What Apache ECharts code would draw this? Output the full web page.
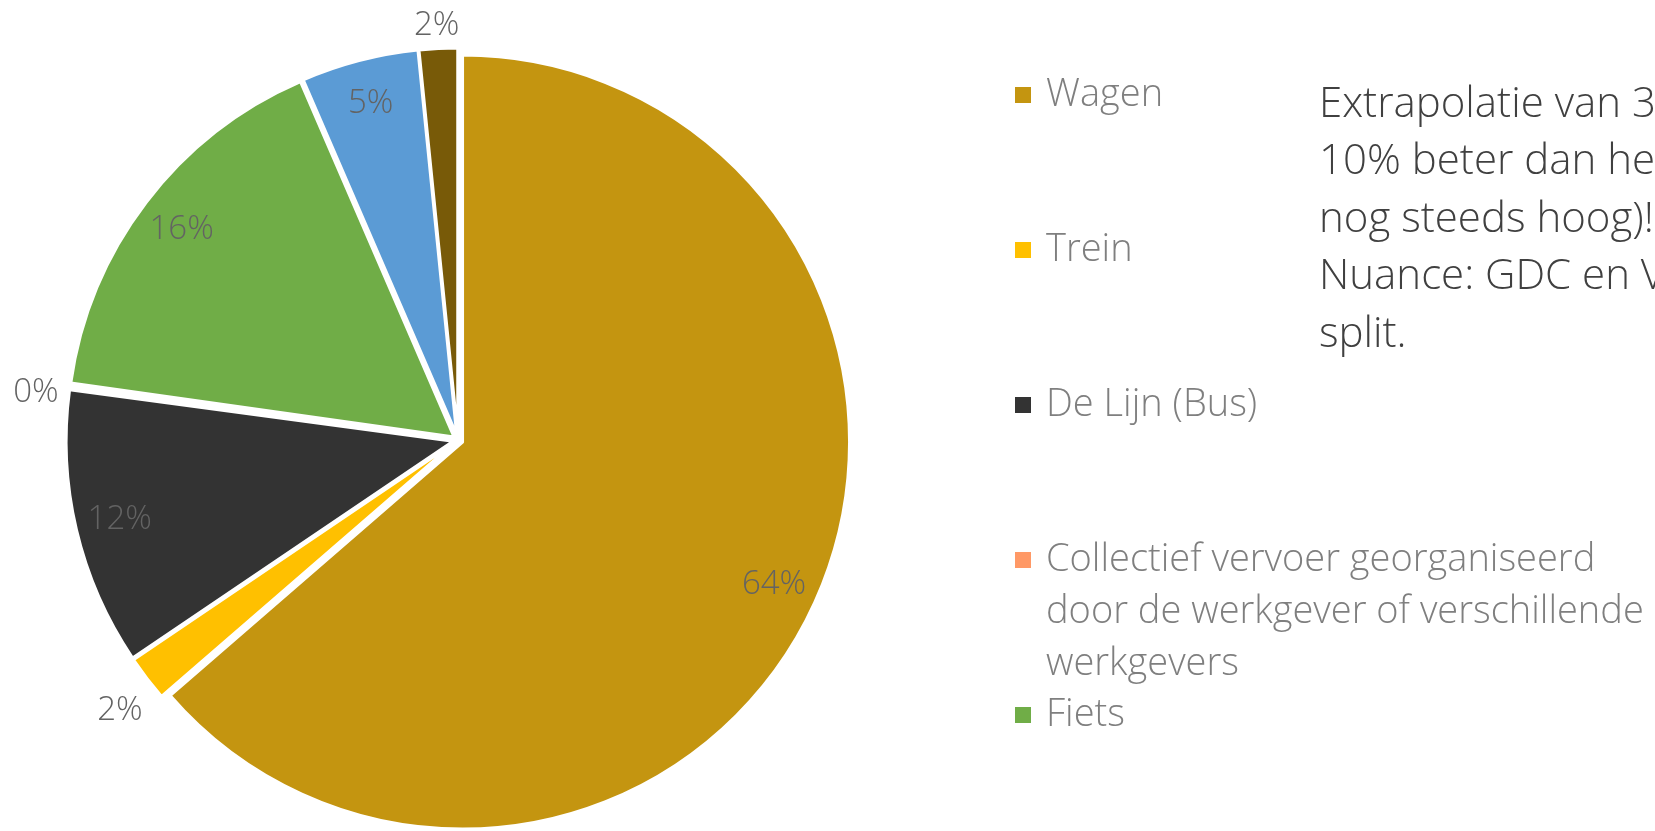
<!DOCTYPE html>
<html>
<head>
<meta charset="utf-8">
<script src="https://cdn.jsdelivr.net/npm/echarts@6/dist/echarts.min.js"></script>
<style>
  html, body { margin: 0; padding: 0; background: #fff; }
  #chart { width: 1655px; height: 831px; }
</style>
</head>
<body>
<div id="chart"></div>
<script>
// vervoersmiddelen (woon-werk), aandeel in %
const categories = ['Wagen', 'Trein', 'De Lijn (Bus)',
  'Collectief vervoer georganiseerd door de werkgever of verschillende werkgevers',
  'Fiets', 'Te voet', 'Andere']
const shares = [63.7, 1.9, 11.6, 0.1, 16.3, 4.9, 1.6]
const sliceColors = ['#C49510', '#FFC000', '#333333', '#FF9966', '#70AD47', '#5B9BD5', '#785A08']
const legendNames = categories.slice(0, 5)
const noteLines = ['Extrapolatie van 3', '10% beter dan he', 'nog steeds hoog)!', 'Nuance: GDC en V', 'split.']

const R = 387
const center = [458, 440]
const font = '"Open Sans", Lato, sans-serif'
const lineH = 52

function wrap(text, maxChars) {
  const lines = []
  let cur = ''
  text.split(' ').forEach(w => {
    if (cur && (cur + ' ' + w).length > maxChars) {
      lines.push(cur)
      cur = w
    } else {
      cur = cur ? cur + ' ' + w : w
    }
  })
  if (cur) lines.push(cur)
  return lines
}

const pct = p => Math.round(p.value) + '%'

const baseData = categories.map((name, i) => ({
  name: name,
  value: shares[i],
  itemStyle: { color: sliceColors[i] }
}))

// één legende per rij, zoals in Excel (lange naam loopt door onder de rij)
const rowY = [95, 250, 405, 560, 715]
const legends = legendNames.map((name, i) => {
  const lines = wrap(name, 34)
  const n = 2 * lines.length - 1
  return {
    data: [name],
    orient: 'vertical',
    left: 1013,
    top: rowY[i] - n * lineH / 2,
    padding: 0,
    icon: 'rect',
    itemWidth: 18,
    itemHeight: 18,
    selectedMode: false,
    formatter: () => '\n'.repeat(lines.length - 1) + lines.join('\n'),
    textStyle: {
      fontFamily: font,
      fontSize: 38,
      fontWeight: 300,
      color: '#7F7F7F',
      lineHeight: lineH,
      padding: [0, 0, 0, 9]
    }
  }
})

const labelStyle = {
  fontFamily: font,
  fontSize: 33,
  fontWeight: 300,
  color: '#636363'
}

const option = {
  animation: false,
  title: {
    text: noteLines.join('\n'),
    left: 1319,
    top: 76,
    padding: 0,
    textStyle: {
      fontFamily: font,
      fontSize: 42,
      fontWeight: 300,
      color: '#404040',
      lineHeight: 57.5
    }
  },
  legend: legends,
  series: [
    {
      type: 'pie',
      center: center,
      radius: R,
      startAngle: 90,
      clockwise: true,
      selectedMode: 'multiple',
      selectedOffset: 5,
      avoidLabelOverlap: false,
      itemStyle: { borderColor: '#fff', borderWidth: 3 },
      label: { show: false },
      labelLine: { show: false },
      emphasis: { disabled: true },
      data: baseData.map(d => Object.assign({}, d, { selected: true }))
    },
    {
      // labels binnenin de grote schijven
      type: 'pie',
      center: center,
      radius: [R * 0.78, R],
      startAngle: 90,
      silent: true,
      avoidLabelOverlap: false,
      itemStyle: { color: 'transparent' },
      labelLine: { show: false },
      emphasis: { disabled: true },
      data: baseData.map(d => ({
        name: d.name,
        value: d.value,
        itemStyle: { color: 'transparent' },
        label: Object.assign({ show: d.value >= 3, position: 'inside', formatter: pct }, labelStyle)
      }))
    },
    {
      // labels buiten de kleine schijven (Excel zet ze iets lager)
      type: 'pie',
      center: [center[0], center[1] + 11],
      radius: [R + 16, R + 56],
      startAngle: 90,
      silent: true,
      avoidLabelOverlap: false,
      itemStyle: { color: 'transparent' },
      labelLine: { show: false },
      emphasis: { disabled: true },
      data: baseData.map(d => ({
        name: d.name,
        value: d.value,
        itemStyle: { color: 'transparent' },
        label: Object.assign({ show: d.value < 3, position: 'inside', formatter: pct }, labelStyle)
      }))
    }
  ]
}

const chart = echarts.init(document.getElementById('chart'))
chart.setOption(option)
</script>
</body>
</html>
